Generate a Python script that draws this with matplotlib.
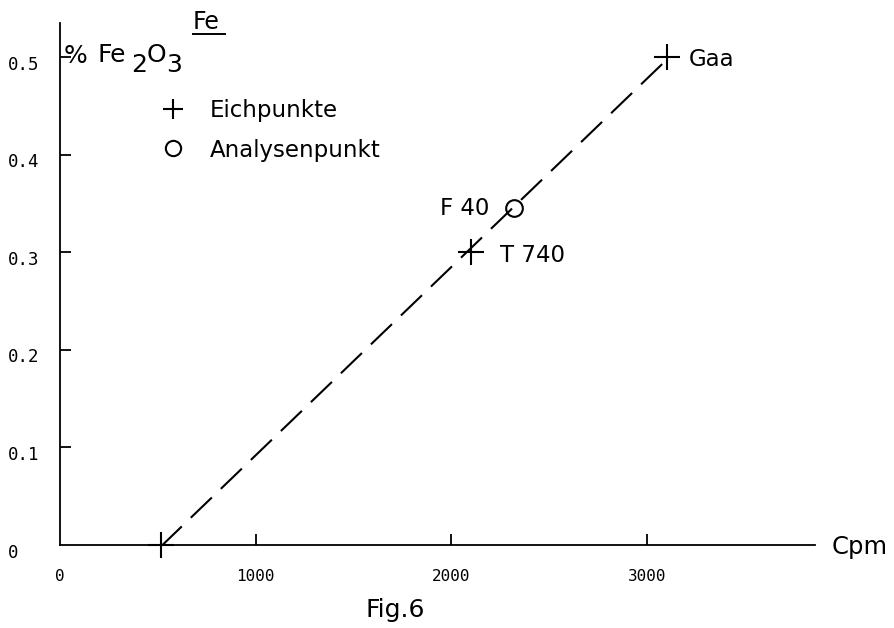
import numpy as np
import matplotlib
matplotlib.use('Agg')
import matplotlib.pyplot as plt
from matplotlib.lines import Line2D
from matplotlib.transforms import ScaledTranslation

# Eichpunkte (calibration standards) and the analysed sample
cal_names = ['', 'T 740', 'Gaa']
cal_cpm = [515, 2100, 3100]
cal_fe2o3 = [0.0, 0.3, 0.5]

sample_name = 'F 40'
sample_cpm = [2320]
sample_fe2o3 = [0.345]

x_ticks = [0, 1000, 2000, 3000]
y_ticks = [0, 0.1, 0.2, 0.3, 0.4, 0.5]
y_ticklabels = ['0', '0.1', '0.2', '0.3', '0.4', '0.5']

W, H = 894, 628
fig = plt.figure(figsize=(W / 100, H / 100), dpi=100)


def fx(px):
    return px / W


def fy(py):
    return 1 - py / H


ax = fig.add_axes([fx(60), fy(545), (815 - 60) / W, (545 - 23) / H])
ax.set_xlim(0, 3858)
ax.set_ylim(0, 0.535)
for s in ['top', 'right']:
    ax.spines[s].set_visible(False)
for s in ['left', 'bottom']:
    ax.spines[s].set_linewidth(1.3)

# calibration line through the standards
k, d = np.polyfit(cal_cpm, cal_fe2o3, 1)
xs = np.array([cal_cpm[0], cal_cpm[-1]])
ax.plot(xs, k * xs + d, color='black', lw=1.5, dashes=(14, 6))

ax.plot(cal_cpm, cal_fe2o3, '+', color='black', ms=19, mew=1.5, clip_on=False)
ax.plot(sample_cpm, sample_fe2o3, 'o', mfc='none', mec='black', ms=12, mew=1.5)

lab_kw = dict(textcoords='offset points', va='center', fontsize=16.5)
for name, x, y in zip(cal_names, cal_cpm, cal_fe2o3):
    if name:
        off = 21 if name == 'T 740' else 16
        ax.annotate(name, (x, y), xytext=(off, -2), ha='left', **lab_kw)
ax.annotate(sample_name, (sample_cpm[0], sample_fe2o3[0]), xytext=(-18, 0),
            ha='right', **lab_kw)

# ticks
ax.set_xticks(x_ticks)
ax.set_xticklabels([str(v) for v in x_ticks])
ax.set_yticks(y_ticks)
ax.set_yticklabels(y_ticklabels)
ax.tick_params(axis='both', direction='in', length=8, width=1.3,
               labelfontfamily='DejaVu Sans Mono')
ax.tick_params(axis='x', pad=17, labelsize=11.5)
ax.tick_params(axis='y', pad=37.5, labelsize=12.5)
ax.xaxis.get_major_ticks()[0].tick1line.set_visible(False)
ax.yaxis.get_major_ticks()[0].tick1line.set_visible(False)
shift = ScaledTranslation(0, -4 / 72, fig.dpi_scale_trans)
for lab in ax.get_yticklabels():
    lab.set_horizontalalignment('left')
    lab.set_transform(lab.get_transform() + shift)

# legend
handles = [Line2D([], [], ls='none', marker='+', color='black', ms=15, mew=1.5),
           Line2D([], [], ls='none', marker='o', mfc='none', mec='black', ms=11, mew=1.5)]
fig.legend(handles, ['Eichpunkte', 'Analysenpunkt'], loc='upper left',
           bbox_to_anchor=(fx(162), fy(99)), frameon=False, fontsize=16.5,
           handlelength=1.0, handletextpad=1.1, labelspacing=0.72,
           borderpad=0, borderaxespad=0)

# axis titles
fig.text(fx(193), fy(22), 'Fe', fontsize=17, va='center', ha='left')
fig.add_artist(Line2D([fx(193), fx(225)], [fy(34), fy(34)], color='black', lw=1.4))
fig.text(fx(64), fy(56), '%', fontsize=18, va='center', ha='left')
fig.text(fx(97), fy(55), 'Fe', fontsize=18, va='center', ha='left')
fig.text(fx(131), fy(65), '2', fontsize=18, va='center', ha='left')
fig.text(fx(147), fy(55), 'O', fontsize=18, va='center', ha='left')
fig.text(fx(166), fy(65), '3', fontsize=18, va='center', ha='left')
fig.text(fx(832), fy(547), 'Cpm', fontsize=17.5, va='center', ha='left')
fig.text(fx(365), fy(610), 'Fig.6', fontsize=18, va='center', ha='left')

fig.savefig('out.png', dpi=100)
